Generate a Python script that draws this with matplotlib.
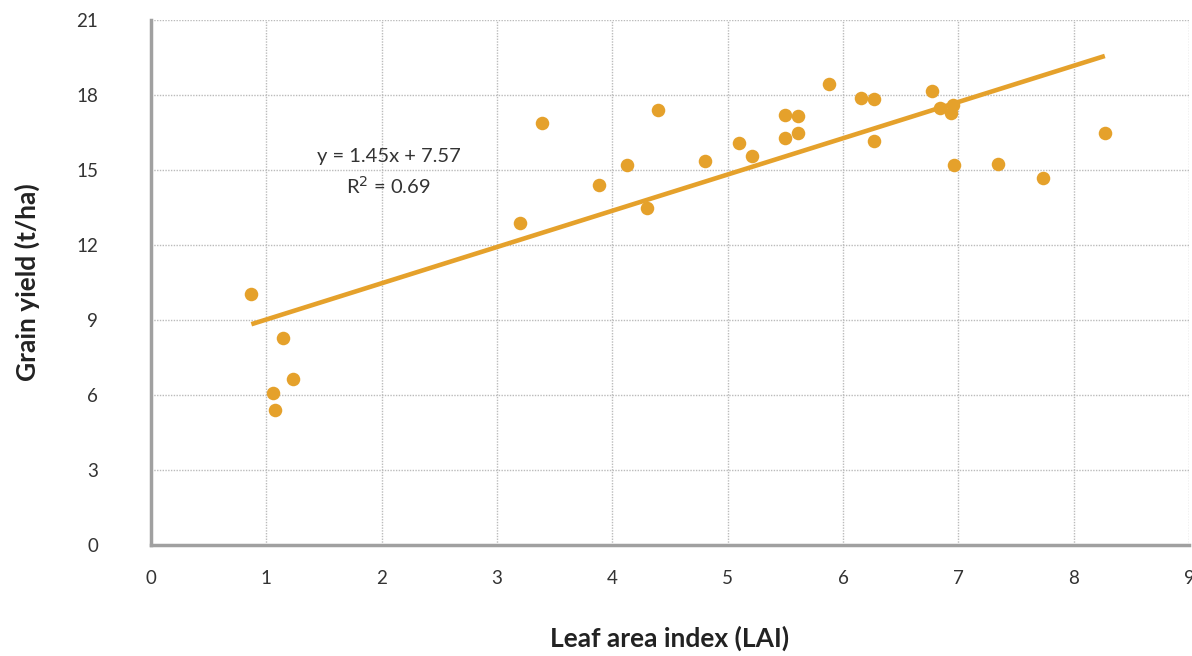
import numpy as np
import matplotlib.pyplot as plt

# Leaf area index vs grain yield
lai = [0.87, 1.145, 1.06, 1.23, 1.075, 3.20, 3.39, 3.88, 4.13, 4.30, 4.40, 4.80,
       5.10, 5.21, 5.50, 5.50, 5.61, 5.61, 5.88, 6.16, 6.27, 6.27, 6.77, 6.84,
       6.95, 6.94, 6.96, 7.34, 7.73, 8.27]
grain_yield = [10.05, 8.3, 6.1, 6.65, 5.4, 12.9, 16.9, 14.4, 15.2, 13.5, 17.4, 15.35,
               16.1, 15.55, 17.2, 16.3, 17.15, 16.5, 18.45, 17.9, 17.85, 16.15, 18.15, 17.5,
               17.6, 17.3, 15.2, 15.25, 14.7, 16.5]
slope, intercept = 1.45, 7.57
eq_label = "y = 1.45x + 7.57"
r2_label = "R$^2$ = 0.69"

orange = '#E5A12B'
plt.rcParams['font.family'] = ['Lato', 'DejaVu Sans']

fig = plt.figure(figsize=(11.92, 6.56), dpi=100)
ax = fig.add_axes([0.1267, 0.1692, 0.8708, 0.8003])

ax.scatter(lai, grain_yield, s=95, color=orange, zorder=3, linewidths=0)
xfit = np.array([min(lai), max(lai)])
ax.plot(xfit, slope * xfit + intercept, color=orange, lw=3.3, zorder=2,
        solid_capstyle='butt')

ax.text(2.06, 15.56, eq_label, ha='center', va='center', fontsize=14.5, color='#333333')
ax.text(2.06, 14.36, r2_label, ha='center', va='center', fontsize=14.5, color='#333333')

ax.set_xlim(0, 9)
ax.set_ylim(0, 21)
ax.set_xticks(range(0, 10))
ax.set_yticks(range(0, 22, 3))
ax.grid(True, color='#bbbbbb', linestyle=(0, (1, 1)), lw=1)
ax.set_axisbelow(True)

for s in ['top', 'right']:
    ax.spines[s].set_visible(False)
for s in ['left', 'bottom']:
    ax.spines[s].set_color('#a0a0a0')
    ax.spines[s].set_linewidth(2.5)

ax.tick_params(length=0, labelsize=13.5, labelcolor='#333333')
ax.tick_params(axis='y', pad=38)
ax.tick_params(axis='x', pad=18)

ax.set_xlabel('Leaf area index (LAI)', fontsize=19, fontweight='bold', color='#222222',
              labelpad=28)
ax.set_ylabel('Grain yield (t/ha)', fontsize=19, fontweight='bold', color='#222222',
              labelpad=26)

plt.savefig('out.png', dpi=100)
